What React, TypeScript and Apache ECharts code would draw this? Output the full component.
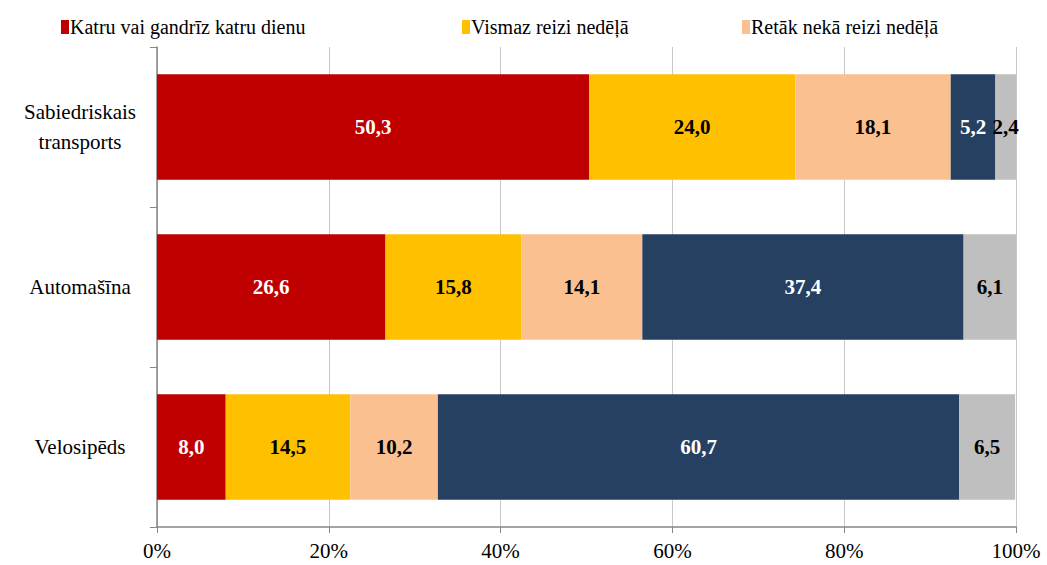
import React, { useEffect, useRef } from "react";
import * as echarts from "echarts";

const categories = ["Sabiedriskais\ntransports", "Automašīna", "Velosipēds"];
const seriesNames = [
  "Katru vai gandrīz katru dienu",
  "Vismaz reizi nedēļā",
  "Retāk nekā reizi nedēļā",
  "Nekad",
  "Nav atbildes",
];
const daily = [50.3, 26.6, 8.0];
const weekly = [24.0, 15.8, 14.5];
const rarer = [18.1, 14.1, 10.2];
const never = [5.2, 37.4, 60.7];
const noAnswer = [2.4, 6.1, 6.5];
const xTicks = [0, 20, 40, 60, 80, 100];

const colors = ["#C00000", "#FFC000", "#FAC090", "#254061", "#BFBFBF"];
const labelColors = ["#FFFFFF", "#000000", "#000000", "#FFFFFF", "#000000"];
const FONT = "Liberation Serif";

export default function App() {
  const ref = useRef<HTMLDivElement>(null);
  useEffect(() => {
    if (!ref.current) return;
    const chart = echarts.init(ref.current, null, { renderer: "svg" });
    const values = [daily, weekly, rarer, never, noAnswer];
    const legendLefts = [56, 457, 737];
    chart.setOption({
      animation: false,
      textStyle: { fontFamily: FONT },
      legend: [0, 1, 2].map((i) => ({
        data: [seriesNames[i]],
        left: legendLefts[i],
        top: 12,
        itemWidth: 8,
        itemHeight: 14,
        itemGap: 4,
        icon: "rect",
        selectedMode: false,
        textStyle: { fontFamily: FONT, fontSize: 20, color: "#000", padding: [0, 0, 0, -4] },
      })),
      grid: { left: 157, right: 31, top: 47, bottom: 38 },
      xAxis: {
        type: "value",
        min: 0,
        max: 100,
        interval: 20,
        axisLine: { show: true, lineStyle: { color: "#868686", width: 1.5 } },
        axisTick: { show: true, length: 6, lineStyle: { color: "#868686" } },
        splitLine: { show: true, lineStyle: { color: "#C8C8C8", width: 1 } },
        axisLabel: {
          fontFamily: FONT,
          fontSize: 21,
          color: "#000",
          margin: 13,
          formatter: (v: number) => (xTicks.includes(v) ? v + "%" : ""),
        },
      },
      yAxis: {
        type: "category",
        data: categories,
        inverse: true,
        axisLine: { show: true, lineStyle: { color: "#868686", width: 1.5 } },
        axisTick: { show: true, length: 7, lineStyle: { color: "#868686" } },
        axisLabel: {
          fontFamily: FONT,
          fontSize: 21,
          color: "#000",
          margin: 77,
          lineHeight: 30,
          align: "center",
        },
      },
      series: values.map((vals, i) => ({
        name: seriesNames[i],
        type: "bar",
        stack: "total",
        barCategoryGap: "34%",
        data: vals,
        itemStyle: { color: colors[i] },
        label: {
          show: true,
          position: "inside",
          fontFamily: FONT,
          fontWeight: "bold",
          fontSize: 21,
          color: labelColors[i],
          formatter: (p: any) => Number(p.value).toFixed(1).replace(".", ","),
        },
      })),
    });
    return () => chart.dispose();
  }, []);
  return (
    <div
      ref={ref}
      style={{ position: "fixed", left: 0, top: 0, width: 1047, height: 565, background: "#fff" }}
    />
  );
}
